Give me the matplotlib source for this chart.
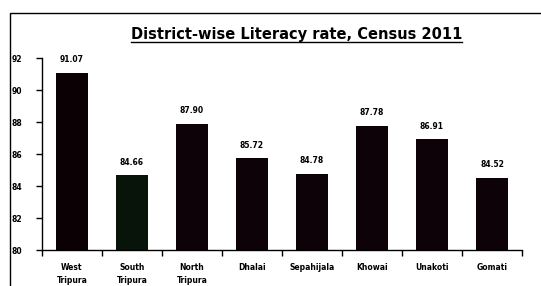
import matplotlib.pyplot as plt
import numpy as np
from matplotlib.lines import Line2D
from matplotlib.patches import Rectangle

districts = ['West\nTripura', 'South\nTripura', 'North\nTripura', 'Dhalai',
             'Sepahijala', 'Khowai', 'Unakoti', 'Gomati']
literacy = [91.07, 84.66, 87.90, 85.72, 84.78, 87.78, 86.91, 84.52]
bar_colors = ['#0b0104', '#08130a', '#0d0208', '#0d0208',
              '#0d0208', '#0d0208', '#0d0208', '#0d0208']
y_ticks = [80, 82, 84, 86, 88, 90, 92]

W, H = 541, 286
fig = plt.figure(figsize=(W / 100, H / 100), dpi=100)
ax = fig.add_axes([42 / W, 1 - 250 / H, 480 / W, 192 / H])

x = np.arange(len(districts))
bars = ax.bar(x, literacy, width=0.53, color=bar_colors, bottom=0)
ax.set_ylim(80, 92)
ax.set_xlim(-0.5, len(districts) - 0.5)

for xi, v in zip(x, literacy):
    ax.text(xi, v + 0.55, f'{v:.2f}', ha='center', va='bottom',
            fontsize=5.5, fontweight='bold')

ax.set_yticks(y_ticks)
ax.set_yticklabels([str(t) for t in y_ticks], fontsize=5.5, fontweight='bold')
ax.set_xticks(x)
ax.set_xticklabels(districts, fontsize=5.5, fontweight='bold', linespacing=1.6)
ax.set_xticks(np.arange(-0.5, len(districts)), minor=True)
ax.tick_params(axis='x', which='major', length=0, pad=9)
ax.tick_params(axis='x', which='minor', length=4, width=1, direction='out')
ax.tick_params(axis='y', length=4, width=1, direction='out', pad=10)

ax.spines['top'].set_visible(False)
ax.spines['right'].set_visible(False)
ax.spines['left'].set_linewidth(1)
ax.spines['bottom'].set_linewidth(1)

# title with underline
fig.text(297 / W, 1 - 35 / H, 'District-wise Literacy rate, Census 2011',
         ha='center', va='center', fontsize=10.5, fontweight='bold')
fig.add_artist(Line2D([131 / W, 462 / W], [1 - 42 / H, 1 - 42 / H],
                      color='black', lw=1, transform=fig.transFigure))

# outer frame of the chart area
fig.add_artist(Rectangle((10 / W, -0.1), 1.2, 1 - 13 / H + 0.1,
                         transform=fig.transFigure, fill=False,
                         edgecolor='black', lw=1))

fig.savefig('out.png', dpi=100)
